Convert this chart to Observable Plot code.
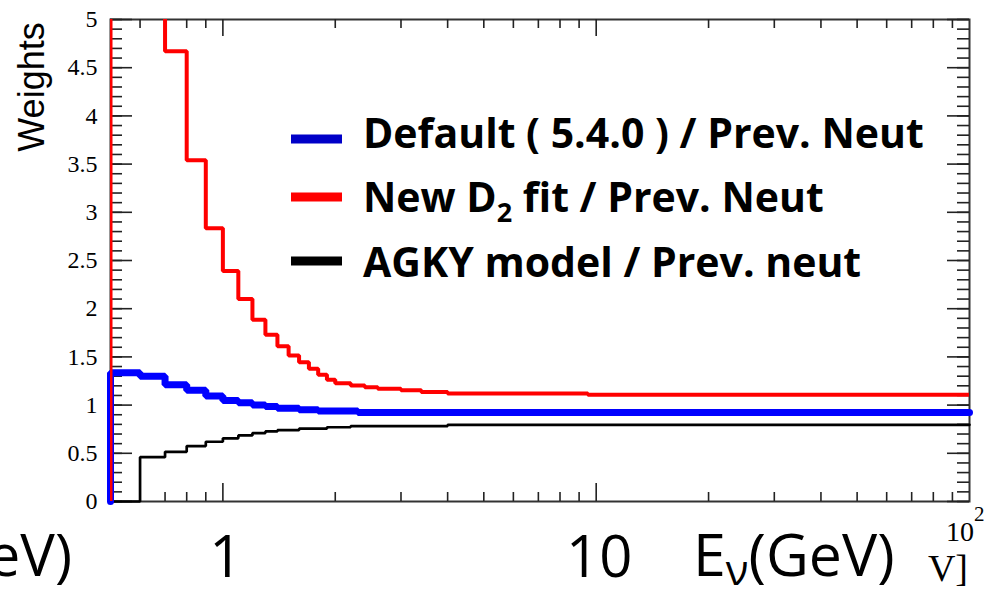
<!DOCTYPE html>
<html>
<head>
<meta charset="utf-8">
<script src="https://cdn.jsdelivr.net/npm/d3@7"></script>
<script src="https://cdn.jsdelivr.net/npm/@observablehq/plot@0.6"></script>
<style>
  html, body { margin: 0; padding: 0; background: #fff; overflow: hidden; }
</style>
</head>
<body>
<div id="chart"></div>
<script>
// Weight histograms versus neutrino energy (GeV).
// Each series: bin edges (last edge closes the range) and one weight per bin.
const defaultEdges   = [0.5, 0.6, 0.7, 0.8, 0.9, 1.0, 1.1, 1.2, 1.3, 1.4, 1.6, 1.8, 2.3, 100];
const defaultWeights = [1.335, 1.30, 1.21, 1.155, 1.095, 1.048, 1.025, 1.0, 0.985, 0.968, 0.952, 0.94, 0.923];

const newFitEdges   = [0.5, 0.6, 0.7, 0.8, 0.9, 1.0, 1.1, 1.2, 1.3, 1.4, 1.5, 1.6, 1.7, 1.8, 1.9, 2.0, 2.2, 2.4, 2.6, 3.0, 3.4, 4.0, 9.5, 100];
const newFitWeights = [7.8, 6.0, 4.67, 3.54, 2.835, 2.39, 2.10, 1.885, 1.73, 1.61, 1.515, 1.445, 1.377, 1.314, 1.262, 1.227, 1.203, 1.186, 1.169, 1.155, 1.137, 1.12, 1.107];

const agkyEdges   = [0.5, 0.6, 0.7, 0.8, 0.9, 1.0, 1.1, 1.2, 1.3, 1.4, 1.6, 1.9, 2.2, 4.0, 100];
const agkyWeights = [0, 0.46, 0.515, 0.575, 0.62, 0.655, 0.685, 0.71, 0.727, 0.74, 0.755, 0.77, 0.782, 0.795];

// Axis ticks
const yTicks = [0, 0.5, 1, 1.5, 2, 2.5, 3, 3.5, 4, 4.5, 5];
const yMinorTicks = d3.range(0, 5.0001, 0.1);
const xMajorTicks = [1, 10];
const xMinorTicks = [0.6, 0.7, 0.8, 0.9, 2, 3, 4, 5, 6, 7, 8, 9, 20, 30, 40, 50, 60, 70, 80, 90];

// Legend entries
const seriesNames  = ["Default ( 5.4.0 ) / Prev. Neut", "New D|2| fit / Prev. Neut", "AGKY model / Prev. neut"];
const seriesColors = ["#0000c8", "#ff0000", "#000000"];

// Turn edges + weights into a step outline that rises from zero at the first edge
function outline(edges, weights) {
  const pts = [{x: edges[0], y: 0}];
  weights.forEach((w, i) => pts.push({x: edges[i], y: w}));
  pts.push({x: edges[edges.length - 1], y: weights[weights.length - 1]});
  return pts;
}

const W = 994, H = 596, mL = 110, mR = 25, mT = 19, mB = 95;
const innerW = W - mL - mR, innerH = H - mT - mB;
const tickStyle = {stroke: "#222", strokeWidth: 1.6};

const plot = Plot.plot({
  width: W, height: H,
  marginLeft: mL, marginRight: mR, marginTop: mT, marginBottom: mB,
  style: {background: "#fff", overflow: "visible"},
  x: {type: "log", domain: [0.5, 100], label: null, axis: null},
  y: {domain: [0, 5], label: null, axis: null},
  marks: [
    Plot.frame({stroke: "#333", strokeWidth: 2}),
    // inner ticks on all four sides
    Plot.tickY(yMinorTicks, {y: d => d, insetRight: innerW - 12, ...tickStyle}),
    Plot.tickY(yTicks, {y: d => d, insetRight: innerW - 22, ...tickStyle}),
    Plot.tickY(yMinorTicks, {y: d => d, insetLeft: innerW - 12, ...tickStyle}),
    Plot.tickY(yTicks, {y: d => d, insetLeft: innerW - 22, ...tickStyle}),
    Plot.tickX(xMinorTicks, {x: d => d, insetTop: innerH - 9, ...tickStyle}),
    Plot.tickX(xMajorTicks, {x: d => d, insetTop: innerH - 18, ...tickStyle}),
    Plot.tickX(xMinorTicks, {x: d => d, insetBottom: innerH - 9, ...tickStyle}),
    Plot.tickX(xMajorTicks, {x: d => d, insetBottom: innerH - 17, ...tickStyle}),
    // tick labels
    Plot.text(yTicks, {y: d => d, frameAnchor: "left", textAnchor: "end", lineAnchor: "middle",
      dx: -13, fontSize: "24px", fontFamily: "Liberation Serif, Times New Roman, serif",
      fill: "#000", text: d => String(d)}),
    Plot.text(xMajorTicks, {x: d => d, frameAnchor: "bottom", textAnchor: "middle", lineAnchor: "bottom",
      dx: 3, dy: 75, fontSize: 58, fontFamily: "Open Sans", fill: "#000", text: d => String(d)}),
    Plot.text(["Weights"], {frameAnchor: "top-left", rotate: -90, dx: -78.5, dy: 67.5,
      textAnchor: "middle", lineAnchor: "middle",
      fontSize: 36, fontFamily: "Liberation Sans", fill: "#000", text: d => d}),
    // histograms
    Plot.line(outline(agkyEdges, agkyWeights), {x: "x", y: "y", curve: "step-after",
      stroke: "#000", strokeWidth: 2.7, strokeLinejoin: "miter"}),
    Plot.line(outline(defaultEdges, defaultWeights), {x: "x", y: "y", curve: "step-after",
      stroke: "#0000ff", strokeWidth: 7, strokeLinejoin: "miter"}),
    Plot.line(outline(newFitEdges, newFitWeights), {x: "x", y: "y", curve: "step-after",
      stroke: "#ff0000", strokeWidth: 4, strokeLinejoin: "miter", clip: "frame"})
  ]
});

document.getElementById("chart").appendChild(plot);

const svg = d3.select(plot);

// Legend inside the frame
const legend = svg.append("g").attr("font-family", "Open Sans").attr("font-weight", 700)
  .attr("font-size", 41).attr("fill", "#000").attr("text-anchor", "start");
const rowBase = [148, 212, 277];
const rowMid = [139, 197, 261];
seriesNames.forEach((name, i) => {
  legend.append("line")
    .attr("x1", 291).attr("x2", 342).attr("y1", rowMid[i]).attr("y2", rowMid[i])
    .attr("stroke", seriesColors[i]).attr("stroke-width", 9);
  const t = legend.append("text").attr("x", 363).attr("y", rowBase[i]);
  const parts = name.split("|");
  t.append("tspan").text(parts[0]);
  if (parts.length > 1) {
    t.append("tspan").attr("font-size", 27).attr("dy", 10).text(parts[1]);
    t.append("tspan").attr("dy", -10).text(parts[2]);
  }
});

// Axis captions below the frame
const cap = svg.append("g").attr("fill", "#000").attr("text-anchor", "start");
cap.append("text").attr("x", 72).attr("y", 576).attr("text-anchor", "end")
  .attr("font-family", "Open Sans").attr("font-size", 58).text("eV)");
const ev = cap.append("text").attr("x", 693).attr("y", 576)
  .attr("font-family", "Open Sans").attr("font-size", 59);
ev.append("tspan").text("E");
ev.append("tspan").attr("font-size", 42).attr("dy", 9).text("ν");
ev.append("tspan").attr("dy", -9).text("(GeV)");
cap.append("text").attr("x", 968).attr("y", 581).attr("text-anchor", "end")
  .attr("font-family", "Liberation Serif").attr("font-size", 38).text("V]");
const sup = cap.append("text").attr("x", 946).attr("y", 541)
  .attr("font-family", "Liberation Serif").attr("font-size", 28);
sup.append("tspan").text("10");
sup.append("tspan").attr("font-size", 21).attr("dy", -20).text("2");
</script>
</body>
</html>
